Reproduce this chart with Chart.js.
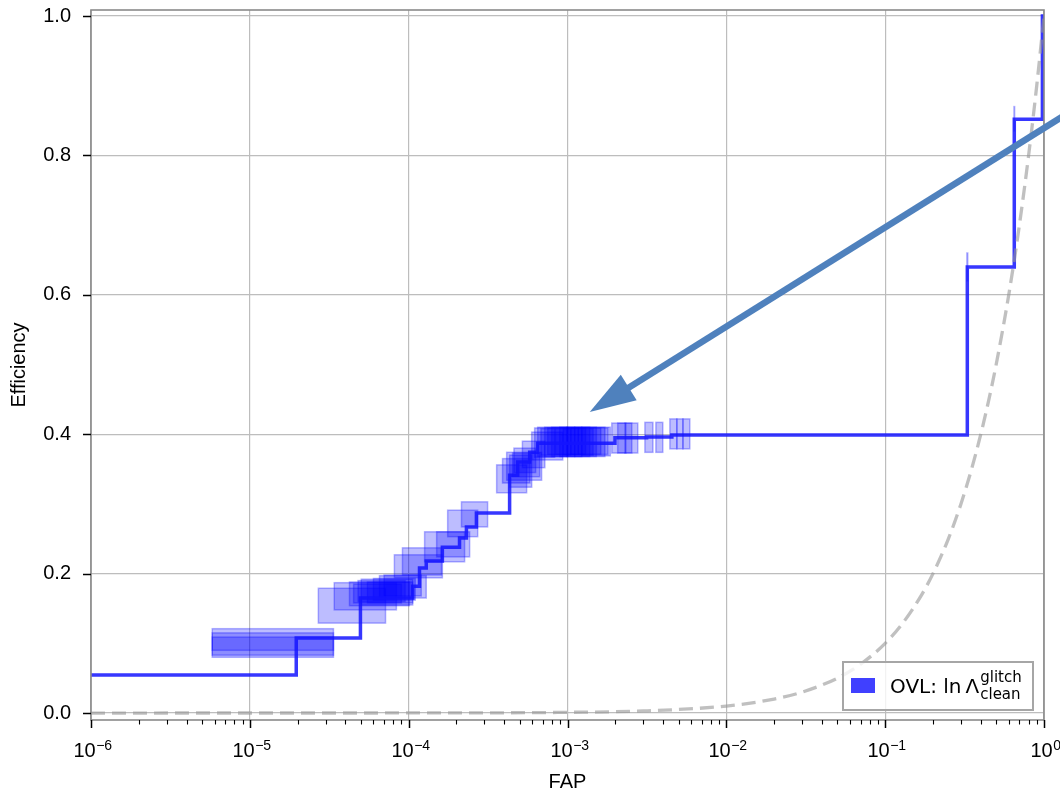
<!DOCTYPE html>
<html>
<head>
<meta charset="utf-8">
<script src="https://cdn.jsdelivr.net/npm/chart.js@4.4.1/dist/chart.umd.min.js"></script>
<style>
  html, body { margin: 0; padding: 0; background: #fff; }
</style>
</head>
<body>
<canvas id="myChart" width="1060" height="794"></canvas>
<script>
// efficiency vs FAP, drawn as a step curve (value holds until the next FAP)
var stepFap = [1e-6, 1.96e-5, 4.97e-5, 1.06e-4, 1.17e-4, 1.29e-4, 1.63e-4, 2.09e-4, 2.31e-4, 2.67e-4,
               4.32e-4, 4.86e-4, 5.78e-4, 6.49e-4, 1.99e-3, 3.15e-3, 4.54e-3, 0.329, 0.650, 0.977, 1];
var stepEff = [0.0545, 0.1076, 0.165, 0.182, 0.208, 0.218, 0.238, 0.251, 0.267, 0.287,
               0.341, 0.360, 0.374, 0.387, 0.395, 0.396, 0.399, 0.640, 0.852, 1.0, 1.0];

// uncertainty boxes: FAP range and efficiency range of each
var boxFapLo = [5.8e-6, 5.8e-6, 5.8e-6, 2.70e-5, 3.40e-5, 4.24e-5, 5.03e-5, 4.8e-5, 5.5e-5, 6.55e-5,
                4.5e-5, 6.0e-5, 7.0e-5,
                8.13e-5, 9.14e-5, 1.26e-4, 1.50e-4, 1.76e-4, 2.15e-4, 3.58e-4, 4.14e-4, 4.32e-4, 4.51e-4,
                3.9e-4, 4.6e-4, 5.2e-4,
                5.95e-4, 6.21e-4, 6.49e-4, 7.18e-4, 7.94e-4, 8.93e-4, 9.88e-4, 1.11e-3, 1.23e-3,
                6.8e-4, 7.5e-4, 8.4e-4, 9.4e-4, 1.05e-3, 1.17e-3,
                1.90e-3, 2.07e-3, 2.30e-3, 3.07e-3, 3.60e-3, 4.41e-3, 4.88e-3, 5.33e-3, 0.327, 0.647];
var boxFapHi = [3.36e-5, 3.36e-5, 3.36e-5, 7.15e-5, 8.37e-5, 1.01e-4, 1.06e-4, 9.5e-5, 1.06e-4, 1.29e-4,
                9.0e-5, 1.1e-4, 1.2e-4,
                1.63e-4, 1.61e-4, 2.25e-4, 2.42e-4, 2.72e-4, 3.14e-4, 5.53e-4, 6.87e-4, 5.95e-4, 6.68e-4,
                5.8e-4, 6.3e-4, 7.2e-4,
                9.33e-4, 8.30e-4, 1.00e-3, 1.11e-3, 1.23e-3, 1.38e-3, 1.52e-3, 1.72e-3, 1.86e-3,
                1.05e-3, 1.17e-3, 1.30e-3, 1.45e-3, 1.62e-3, 1.80e-3,
                2.33e-3, 2.54e-3, 2.77e-3, 3.45e-3, 3.98e-3, 4.88e-3, 5.33e-3, 5.89e-3, 0.331, 0.653];
var boxEffLo = [0.090, 0.083, 0.080, 0.129, 0.148, 0.154, 0.155, 0.160, 0.158, 0.165,
                0.158, 0.162, 0.168,
                0.194, 0.198, 0.217, 0.224, 0.253, 0.267, 0.316, 0.334, 0.324, 0.339,
                0.330, 0.345, 0.352,
                0.363, 0.367, 0.368, 0.368, 0.368, 0.368, 0.368, 0.368, 0.369,
                0.370, 0.371, 0.371, 0.370, 0.371, 0.371,
                0.373, 0.373, 0.373, 0.374, 0.374, 0.379, 0.379, 0.379, 0.620, 0.835];
var boxEffHi = [0.121, 0.115, 0.109, 0.179, 0.187, 0.188, 0.192, 0.190, 0.188, 0.197,
                0.185, 0.193, 0.198,
                0.227, 0.237, 0.260, 0.260, 0.291, 0.303, 0.356, 0.374, 0.370, 0.373,
                0.365, 0.380, 0.390,
                0.403, 0.409, 0.410, 0.410, 0.410, 0.410, 0.410, 0.410, 0.410,
                0.408, 0.409, 0.409, 0.408, 0.409, 0.409,
                0.416, 0.416, 0.416, 0.417, 0.417, 0.422, 0.422, 0.422, 0.660, 0.870];

// chance line: efficiency equal to FAP
var chanceFap = [1e-6, 1e-4, 1e-3, 3e-3, 0.01, 0.02, 0.03, 0.05, 0.07, 0.1, 0.13, 0.17, 0.2,
                 0.25, 0.3, 0.35, 0.4, 0.45, 0.5, 0.6, 0.7, 0.8, 0.9, 1];

// axis ticks
var xDecades = [-6, -5, -4, -3, -2, -1, 0];
var xMinor = [2, 3, 4, 5, 6, 7, 8, 9];
var yTicks = [0, 0.2, 0.4, 0.6, 0.8, 1.0];

var legendLabel = ['OVL: ', 'ln', '\u039B', 'glitch', 'clean'];

var xTickList = [];
xDecades.forEach(function(d, i) {
  xTickList.push({ value: Math.pow(10, d), major: true, exp: d });
  if (i < xDecades.length - 1) {
    xMinor.forEach(function(m) { xTickList.push({ value: m * Math.pow(10, d), major: false }); });
  }
});

Chart.defaults.font.family = 'Liberation Sans';
Chart.defaults.color = '#000';

var extras = {
  id: 'extras',
  beforeDatasetsDraw: function(chart) {
    var ctx = chart.ctx, xs = chart.scales.x, ys = chart.scales.y, a = chart.chartArea;
    ctx.save();
    ctx.beginPath();
    ctx.rect(a.left, a.top, a.right - a.left, a.bottom - a.top);
    ctx.clip();
    ctx.lineWidth = 1.5;
    for (var i = 0; i < boxFapLo.length; i++) {
      var x0 = xs.getPixelForValue(boxFapLo[i]), x1 = xs.getPixelForValue(boxFapHi[i]);
      var y0 = ys.getPixelForValue(boxEffHi[i]), y1 = ys.getPixelForValue(boxEffLo[i]);
      ctx.fillStyle = 'rgba(0,0,255,0.26)';
      ctx.fillRect(x0, y0, x1 - x0, y1 - y0);
      ctx.strokeStyle = 'rgba(0,0,255,0.3)';
      ctx.strokeRect(x0, y0, x1 - x0, y1 - y0);
    }
    ctx.restore();
  },
  afterDatasetsDraw: function(chart) {
    var ctx = chart.ctx, xs = chart.scales.x, ys = chart.scales.y, a = chart.chartArea;
    ctx.save();
    // frame
    ctx.strokeStyle = '#8a8a8a';
    ctx.lineWidth = 1.6;
    ctx.strokeRect(a.left, a.top, a.right - a.left, a.bottom - a.top);
    // tick marks and power-of-ten labels
    ctx.strokeStyle = '#000';
    ctx.fillStyle = '#000';
    ctx.textBaseline = 'alphabetic';
    ctx.textAlign = 'left';
    xs.ticks.forEach(function(t) {
      var px = Math.round(xs.getPixelForValue(t.value)) + 0.5;
      ctx.lineWidth = t.major ? 1.5 : 1.1;
      ctx.beginPath();
      ctx.moveTo(px, a.bottom);
      ctx.lineTo(px, a.bottom + (t.major ? 8 : 4.5));
      ctx.stroke();
      if (t.major) {
        var expText = String(t.exp).replace('-', '\u2212');
        ctx.font = '20px "Liberation Sans"';
        var wBase = ctx.measureText('10').width;
        ctx.font = '14px "Liberation Sans"';
        var wExp = ctx.measureText(expText).width;
        var lx = px - (wBase + wExp) / 2 + 1;
        ctx.font = '20px "Liberation Sans"';
        ctx.fillText('10', lx, a.bottom + 37);
        ctx.font = '14px "Liberation Sans"';
        ctx.fillText(expText, lx + wBase + 0.5, a.bottom + 30);
      }
    });
    ys.ticks.forEach(function(t) {
      var py = Math.round(ys.getPixelForValue(t.value)) + 0.5;
      ctx.lineWidth = 1.5;
      ctx.beginPath();
      ctx.moveTo(a.left, py);
      ctx.lineTo(a.left - 8, py);
      ctx.stroke();
    });

    // legend, lower right
    var bw = 190, bh = 48;
    var bx = a.right - 11 - bw, by = a.bottom - 10 - bh;
    ctx.fillStyle = 'rgba(255,255,255,0.8)';
    ctx.fillRect(bx, by, bw, bh);
    ctx.strokeStyle = '#a6a6a6';
    ctx.lineWidth = 2;
    ctx.strokeRect(bx, by, bw, bh);
    ctx.fillStyle = '#4040ff';
    ctx.fillRect(bx + 8, by + 16, 24, 15);
    ctx.fillStyle = '#000';
    var tx = bx + 47, base = by + 31;
    ctx.font = '20px "DejaVu Sans"';
    ctx.fillText(legendLabel[0], tx, base);
    tx += ctx.measureText(legendLabel[0]).width;
    ctx.fillText(legendLabel[1], tx, base);
    tx += ctx.measureText(legendLabel[1]).width + 4;
    ctx.fillText(legendLabel[2], tx, base);
    tx += ctx.measureText(legendLabel[2]).width + 1;
    ctx.font = '15px "DejaVu Sans"';
    ctx.fillText(legendLabel[3], tx, base - 11);
    ctx.fillText(legendLabel[4], tx, base + 6);
    ctx.restore();
  },
  afterDraw: function(chart) {
    // arrow pointing at the plateau
    var ctx = chart.ctx, xs = chart.scales.x, ys = chart.scales.y;
    var x0 = xs.getPixelForValue(2.0), y0 = ys.getPixelForValue(0.882);
    var x1 = xs.getPixelForValue(1.38e-3), y1 = ys.getPixelForValue(0.432);
    var dx = x1 - x0, dy = y1 - y0, len = Math.sqrt(dx * dx + dy * dy);
    var ux = dx / len, uy = dy / len;
    var headLen = 46, headHalf = 15;
    var bxp = x1 - ux * headLen, byp = y1 - uy * headLen;
    ctx.save();
    ctx.strokeStyle = '#4f81bd';
    ctx.fillStyle = '#4f81bd';
    ctx.lineWidth = 6.5;
    ctx.beginPath();
    ctx.moveTo(x0, y0);
    ctx.lineTo(bxp + ux * 4, byp + uy * 4);
    ctx.stroke();
    ctx.beginPath();
    ctx.moveTo(x1, y1);
    ctx.lineTo(bxp - uy * headHalf, byp + ux * headHalf);
    ctx.lineTo(bxp + uy * headHalf, byp - ux * headHalf);
    ctx.closePath();
    ctx.fill();
    ctx.restore();
  }
};

var ctx = document.getElementById('myChart');
var myChart = new Chart(ctx, {
  type: 'scatter',
  data: {
    datasets: [
      {
        label: 'chance',
        data: chanceFap.map(function(v) { return { x: v, y: v }; }),
        showLine: true,
        borderColor: 'rgba(150,150,150,0.6)',
        borderWidth: 3.3,
        borderDash: [14, 7],
        cubicInterpolationMode: 'monotone',
        pointRadius: 0,
        fill: false,
        order: 0
      },
      {
        label: 'OVL',
        data: stepFap.map(function(v, i) { return { x: v, y: stepEff[i] }; }),
        showLine: true,
        stepped: 'before',
        borderColor: 'rgba(20,20,255,0.85)',
        borderWidth: 3.5,
        pointRadius: 0,
        fill: false,
        order: 1
      }
    ]
  },
  options: {
    responsive: false,
    animation: false,
    layout: { padding: { top: 10, right: 16, left: 0, bottom: 0 } },
    plugins: { legend: { display: false }, tooltip: { enabled: false } },
    scales: {
      x: {
        type: 'logarithmic',
        min: 1e-6,
        max: 1,
        afterBuildTicks: function(scale) { scale.ticks = xTickList.slice(); },
        afterFit: function(scale) { scale.height = 74; scale.paddingLeft = 0; scale.paddingRight = 0; },
        border: { display: false },
        grid: {
          drawTicks: false,
          lineWidth: 1.2,
          color: function(c) { return c.tick && c.tick.major ? '#bdbdbd' : 'rgba(0,0,0,0)'; }
        },
        ticks: { autoSkip: false, maxRotation: 0, callback: function() { return ''; } },
        title: { display: true, text: 'FAP', font: { size: 20 }, padding: { top: 0, bottom: 0 } }
      },
      y: {
        min: -0.01,
        max: 1.0086,
        afterBuildTicks: function(scale) { scale.ticks = yTicks.map(function(v) { return { value: v }; }); },
        afterFit: function(scale) { scale.width = 91; scale.paddingTop = 0; scale.paddingBottom = 0; },
        border: { display: false },
        grid: { drawTicks: false, lineWidth: 1.2, color: '#bdbdbd' },
        ticks: {
          padding: 20,
          font: { size: 20 },
          callback: function(value) { return value.toFixed(1); }
        },
        title: { display: true, text: 'Efficiency', font: { size: 20 }, padding: { top: 7, bottom: 0 } }
      }
    }
  },
  plugins: [extras]
});
</script>
</body>
</html>
